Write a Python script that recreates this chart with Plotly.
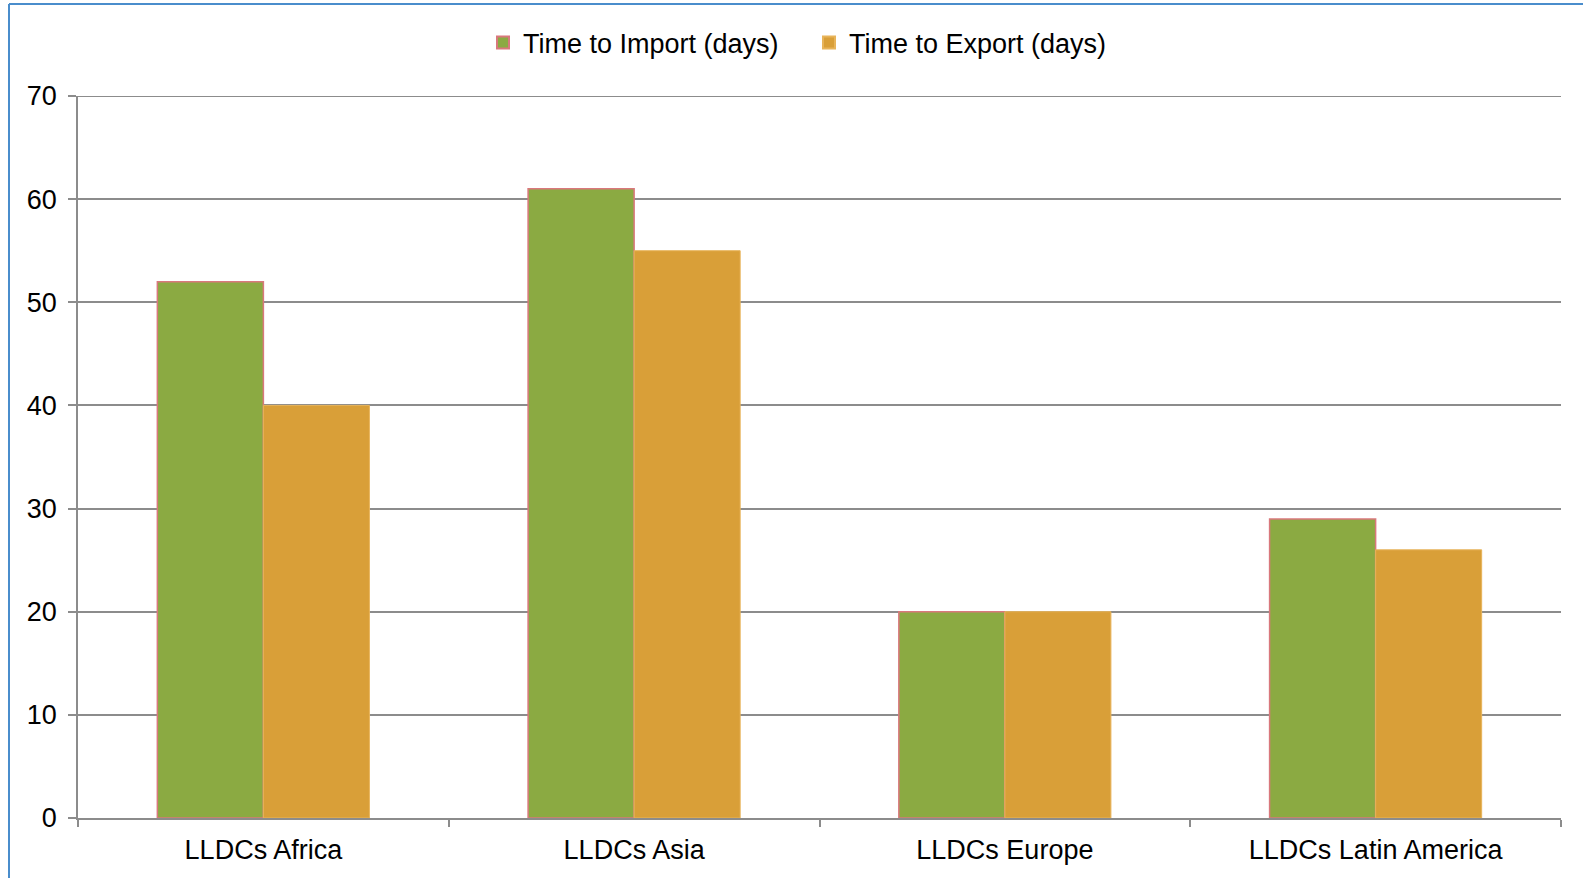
import plotly.graph_objects as go

# Average time to trade for landlocked developing countries, by region
regions = ["LLDCs Africa", "LLDCs Asia", "LLDCs Europe", "LLDCs Latin America"]
time_to_import = [52, 61, 20, 29]
time_to_export = [40, 55, 20, 26]
y_ticks = [0, 10, 20, 30, 40, 50, 60, 70]

W, H = 1583, 878
ML, MR, MT, MB = 78, 22, 96, 60
plot_w = W - ML - MR
plot_h = H - MT - MB

GREEN = "#8BAA42"
ORANGE = "#D99F38"
GRID = "#8c8c8c"
FONT = "Liberation Sans, Arial, sans-serif"
FS = 27

fig = go.Figure()
fig.add_trace(go.Bar(
    x=regions, y=time_to_import, name="Time to Import (days)",
    marker=dict(color=GREEN, line=dict(color="#D9787C", width=1.5)),
))
fig.add_trace(go.Bar(
    x=regions, y=time_to_export, name="Time to Export (days)",
    marker=dict(color=ORANGE, line=dict(color="#E8B45A", width=1)),
))

# top gridline at the upper end of the value axis
fig.add_shape(type="line", xref="paper", yref="y", x0=-8 / plot_w, x1=1,
              y0=y_ticks[-1], y1=y_ticks[-1], line=dict(color=GRID, width=2),
              layer="below")

# outer chart frame (left and top edges)
fx0 = (9 - ML) / plot_w
fy1 = 1 + (MT - 4) / plot_h
fig.add_shape(type="line", xref="paper", yref="paper", x0=fx0, x1=fx0,
              y0=-0.2, y1=fy1, line=dict(color="#4A8DCC", width=2))
fig.add_shape(type="line", xref="paper", yref="paper", x0=fx0, x1=1.2,
              y0=fy1, y1=fy1, line=dict(color="#4A8DCC", width=2))

fig.update_layout(
    width=W, height=H,
    margin=dict(l=ML, r=MR, t=MT, b=MB, pad=0),
    paper_bgcolor="white", plot_bgcolor="white",
    font=dict(family=FONT, size=FS, color="#000000"),
    barmode="group", bargap=0.428, bargroupgap=0,
    showlegend=True,
    legend=dict(orientation="h", x=(483 - ML) / plot_w, xanchor="left",
                y=1 + (MT - 43) / plot_h, yanchor="middle",
                font=dict(size=FS), itemsizing="constant", entrywidth=281,
                bgcolor="rgba(0,0,0,0)"),
    xaxis=dict(
        type="category", showgrid=False, showline=True, linecolor=GRID,
        linewidth=1.5, ticks="outside", tickson="boundaries", ticklen=7,
        tickcolor=GRID, tickwidth=1.5, tickfont=dict(size=FS),
        ticklabelstandoff=7,
    ),
    yaxis=dict(
        range=[0, 70], tickvals=y_ticks, showgrid=True, gridcolor=GRID,
        gridwidth=1.5, showline=True, linecolor=GRID, linewidth=1.5,
        ticks="outside", ticklen=8, tickcolor=GRID, tickwidth=1.5,
        zeroline=False, tickfont=dict(size=FS), ticklabelstandoff=6,
    ),
)

fig.write_html("out.html")
